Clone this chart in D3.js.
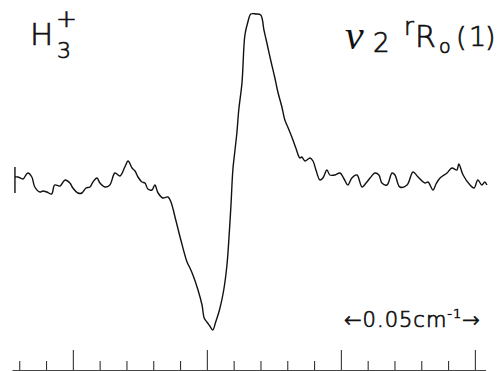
<!DOCTYPE html>
<html>
<head>
<meta charset="utf-8">
<script src="https://cdn.jsdelivr.net/npm/d3@7/dist/d3.min.js"></script>
<style>
  html, body { margin: 0; padding: 0; background: #fff; }
  svg { display: block; }
  text { font-family: "DejaVu Sans", "Liberation Sans", sans-serif; font-weight: 200; fill: #111; stroke: #111; stroke-width: 0.7px; }
</style>
</head>
<body>
<main></main>
<script>
"use strict";

// frequency offset, in units of 0.01 cm^-1 (one tick = 0.01 cm^-1)
const shift = [
  -0.16, -0.05, 0.14, 0.25, 0.32, 0.47, 0.58, 0.77, 0.88, 1.03, 1.21, 1.32, 1.52, 1.71, 1.89,
  2.00, 2.19, 2.34, 2.49, 2.64, 2.75, 2.90, 3.01, 3.20, 3.38, 3.57, 3.76, 3.94, 4.06, 4.21,
  4.32, 4.43, 4.58, 4.69, 4.80, 4.95, 5.06, 5.18, 5.36, 5.55,
  5.66, 5.84, 6.03, 6.26, 6.37, 6.48, 6.67, 6.82, 6.90, 7.00, 7.11, 7.22, 7.33, 7.49,
  7.63, 7.75, 7.82, 7.90, 7.97, 8.05, 8.12, 8.19, 8.31, 8.42, 8.53, 8.64, 8.83, 9.01,
  9.13, 9.24, 9.38, 9.53, 9.65, 9.80, 9.91, 10.02, 10.17, 10.32, 10.47, 10.54, 10.66,
  10.85, 10.96, 11.07, 11.22, 11.33, 11.48, 11.59, 11.78, 11.97, 12.12, 12.26, 12.41,
  12.60, 12.79, 12.94, 13.09, 13.27, 13.42, 13.53, 13.72, 13.91, 14.02, 14.20, 14.47,
  14.69, 14.88, 15.14, 15.25, 15.44, 15.55, 15.70, 15.96, 16.14, 16.33, 16.40, 16.56,
  16.82, 16.97, 17.11, 17.26, 17.37, 17.45
];

// absorption signal (arbitrary units)
const signal = [
  0.06, 0.06, 0.04, 0.08, 0.10, 0.06, -0.04, -0.09, -0.08, -0.09, -0.11, -0.02, -0.03, 0.03, 0.00,
  -0.05, -0.10, -0.10, -0.05, -0.04, 0.01, 0.05, 0.00, -0.04, -0.02, 0.10, 0.07, 0.16, 0.22, 0.15,
  0.12, 0.06, 0.01, 0.00, -0.06, -0.07, -0.02, -0.10, -0.15, -0.14,
  -0.19, -0.37, -0.57, -0.79, -0.85, -0.92, -1.07, -1.22, -1.35, -1.39, -1.43, -1.47, -1.39, -1.25,
  -1.07, -0.82, -0.57, -0.22, 0.13, 0.33, 0.50, 0.73, 1.00, 1.48, 1.61, 1.69, 1.69, 1.68,
  1.53, 1.40, 1.23, 1.06, 0.91, 0.76, 0.63, 0.56, 0.46, 0.35, 0.25, 0.26, 0.22,
  0.25, 0.22, 0.13, 0.03, 0.05, 0.13, 0.08, 0.08, 0.10, 0.04, -0.02, 0.05,
  0.08, -0.04, 0.00, 0.05, 0.10, 0.08, 0.00, -0.02, 0.10, 0.08, -0.04, -0.02,
  0.11, 0.06, 0.00, 0.01, -0.07, -0.01, 0.05, 0.10, 0.15, 0.13, 0.19, 0.08,
  -0.02, -0.05, 0.03, -0.02, 0.01, -0.02
];

const tickValues = [0, 1, 2, 3, 4, 5, 6, 7, 8, 9, 10, 11, 12, 13, 14, 15, 16, 17];
const majorTicks = [2, 7, 12, 17];

const width = 501;
const height = 371;

const svg = d3.select("main")
  .append("svg")
  .attr("width", width)
  .attr("height", height)
;

const xScale = d3.scaleLinear()
  .domain([-0.27, 17.4])
  .range([12, 485.6])
;

const yScale = d3.scaleLinear()
  .domain([-1.5, 1.7])
  .range([333, 13])
;

const points = shift.map((s, i) => [s, signal[i]]);

const line = d3.line()
  .x(d => xScale(d[0]))
  .y(d => yScale(d[1]))
  .curve(d3.curveCatmullRom.alpha(0.5))
;

svg.append("path")
  .datum(points)
  .attr("d", line)
  .attr("fill", "none")
  .attr("stroke", "#111")
  .attr("stroke-width", 1.4)
  .attr("stroke-linejoin", "round")
;

// pen start mark
svg.append("line")
  .attr("x1", xScale(shift[0]))
  .attr("x2", xScale(shift[0]))
  .attr("y1", yScale(signal[0] + 0.1))
  .attr("y2", yScale(signal[0] - 0.16))
  .attr("stroke", "#111")
  .attr("stroke-width", 1.4)
;

// bottom tick scale
const xAxis = d3.axisTop(xScale)
  .tickValues(tickValues)
  .tickSize(9)
  .tickSizeOuter(0)
  .tickFormat("")
;

const axisG = svg.append("g")
  .attr("transform", `translate(0, ${height - 1})`)
  .call(xAxis)
;
axisG.select(".domain").attr("stroke", "#444").attr("stroke-width", 1.1);
axisG.selectAll(".tick line")
  .attr("stroke", "#333")
  .attr("stroke-width", 1.1)
  .attr("y2", d => majorTicks.includes(d) ? -20 : -9)
;

// labels
const h3 = svg.append("g");
h3.append("text").attr("x", 30).attr("y", 45).attr("font-size", 31).text("H");
h3.append("text").attr("x", 56).attr("y", 27).attr("font-size", 25).text("+");
h3.append("text").attr("x", 57).attr("y", 58).attr("font-size", 22).text("3");

const band = svg.append("g");
band.append("text")
  .attr("x", 345).attr("y", 49)
  .attr("font-size", 42)
  .style("font-family", "'Liberation Serif', serif")
  .style("font-style", "italic")
  .style("font-weight", "normal")
  .style("stroke-width", "0px")
  .text("ν");
band.append("text").attr("x", 373).attr("y", 52).attr("font-size", 26).text("2");
band.append("text").attr("x", 404).attr("y", 35).attr("font-size", 24).text("r");
band.append("text").attr("x", 415).attr("y", 47).attr("font-size", 30).text("R");
band.append("text").attr("x", 439).attr("y", 53).attr("font-size", 19).text("o");
band.append("text").attr("x", 456).attr("y", 46).attr("font-size", 27).text("(");
band.append("text").attr("x", 469).attr("y", 46).attr("font-size", 27).text("1");
band.append("text").attr("x", 485).attr("y", 46).attr("font-size", 27).text(")");

// scale bar
const bar = svg.append("text")
  .attr("x", 344).attr("y", 327)
  .attr("font-size", 21)
  .attr("letter-spacing", 1)
;
bar.append("tspan").text("←0.05cm");
bar.append("tspan").attr("font-size", 13).attr("dy", -9).text("-1");
bar.append("tspan").attr("dy", 9).text("→");
</script>
</body>
</html>
